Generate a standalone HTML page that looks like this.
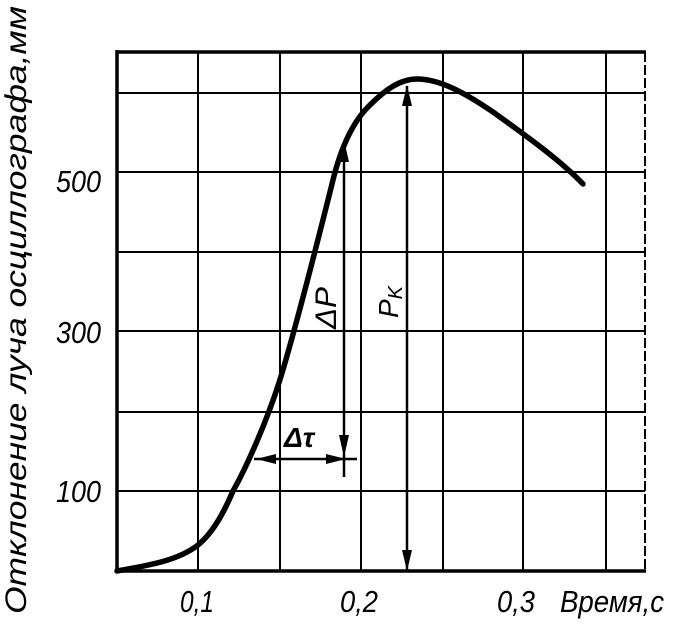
<!DOCTYPE html>
<html><head><meta charset="utf-8"><style>
html,body{margin:0;padding:0;background:#fff;}
svg{display:block}
text{font-family:"Liberation Sans",sans-serif;font-style:italic;fill:#000}
</style></head><body>
<svg width="687" height="624" viewBox="0 0 687 624" xmlns="http://www.w3.org/2000/svg">
<g stroke="#000" stroke-width="2" fill="none">
<line x1="198" y1="52" x2="198" y2="571"/>
<line x1="280" y1="52" x2="280" y2="571"/>
<line x1="361" y1="52" x2="361" y2="571"/>
<line x1="443" y1="52" x2="443" y2="571"/>
<line x1="523" y1="52" x2="523" y2="571"/>
<line x1="606" y1="52" x2="606" y2="571"/>
<line x1="645" y1="52" x2="645" y2="571" stroke-dasharray="10,3"/>
<line x1="116" y1="93" x2="645" y2="93"/>
<line x1="116" y1="172" x2="645" y2="172"/>
<line x1="116" y1="252" x2="645" y2="252"/>
<line x1="116" y1="331" x2="645" y2="331"/>
<line x1="116" y1="412" x2="645" y2="412"/>
<line x1="116" y1="491" x2="645" y2="491"/>
</g>
<g stroke="#000" stroke-width="3.5" fill="none">
<line x1="117" y1="50" x2="117" y2="573"/>
<line x1="116" y1="52" x2="646" y2="52"/>
<line x1="116" y1="571" x2="646" y2="571"/>
</g>
<path d="M117,571 C145,566 178,561 198,545 C214,532 225,510 233,491 C245,470 268,420 282,373 C296,326 318,240 332,184 C340,150 352,122 370,105 C385,90 400,79 417,79 C440,79 465,93 493,112 C525,135 560,160 583,184" stroke="#000" stroke-width="5.5" fill="none" stroke-linecap="round"/>
<g stroke="#000" stroke-width="2.5" fill="none">
<line x1="344" y1="145" x2="344" y2="477"/>
<line x1="407" y1="86" x2="407" y2="571"/>
<line x1="254" y1="459" x2="357" y2="459"/>
</g>
<g fill="#000">
<polygon points="344,140 339,162 349,162"/>
<polygon points="344,457 339,435 349,435"/>
<polygon points="407,85 402,106 412,106"/>
<polygon points="407,571 402,550 412,550"/>
<polygon points="256,459 276,454 276,464"/>
<polygon points="346,459 326,454 326,464"/>
</g>
<g font-size="31">
<text x="56" y="192" textLength="45" lengthAdjust="spacingAndGlyphs">500</text>
<text x="56" y="343" textLength="45" lengthAdjust="spacingAndGlyphs">300</text>
<text x="56" y="502" textLength="45" lengthAdjust="spacingAndGlyphs">100</text>
<text x="180" y="612" textLength="34" lengthAdjust="spacingAndGlyphs">0,1</text>
<text x="340" y="612" textLength="38" lengthAdjust="spacingAndGlyphs">0,2</text>
<text x="497" y="612" textLength="38" lengthAdjust="spacingAndGlyphs">0,3</text>
<text x="560" y="612" textLength="104" lengthAdjust="spacingAndGlyphs">Время,с</text>
</g>
<text font-size="30" transform="translate(26,614) rotate(-90)" textLength="608" lengthAdjust="spacingAndGlyphs">Отклонение луча осциллографа,мм</text>
<text font-size="30" transform="translate(336,329) rotate(-90)" textLength="42" lengthAdjust="spacingAndGlyphs">ΔP</text>
<text font-size="28" transform="translate(398,318) rotate(-90)">P<tspan font-size="20" dy="4">K</tspan></text>
<text font-size="28" x="284" y="447" font-weight="bold">Δτ</text>
</svg>
</body></html>
